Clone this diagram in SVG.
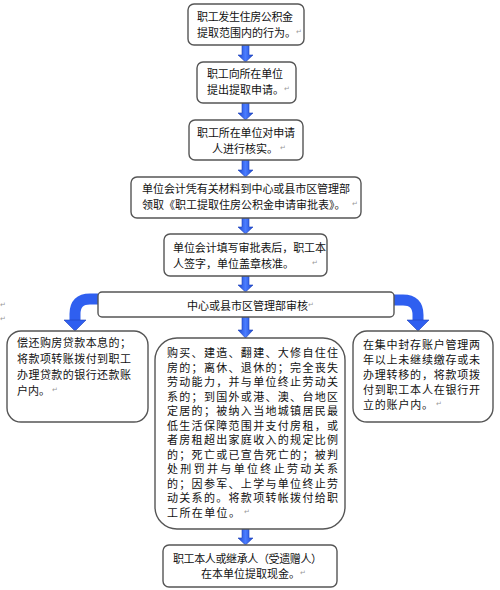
<svg xmlns="http://www.w3.org/2000/svg" width="500" height="590" viewBox="0 0 500 590">
<defs>
<style>
.box{fill:#fff;stroke:#555;stroke-width:1.4}
.t{font-family:"Noto Sans CJK SC","Liberation Sans",sans-serif;font-size:11px;fill:#111;dominant-baseline:central}
.m{font-family:"DejaVu Sans",sans-serif;font-size:7px;fill:#999;dominant-baseline:central}
.arr{fill:url(#blue);stroke:#1c3fb8;stroke-width:0.6}
.curve{fill:none;stroke:#2f5ff0;stroke-width:11}
.head{fill:#2f5ff0;stroke:#1c3fb8;stroke-width:0.6}
</style>
<linearGradient id="blue" x1="0" y1="0" x2="1" y2="0">
<stop offset="0" stop-color="#1d48d0"/>
<stop offset="0.5" stop-color="#4a7cff"/>
<stop offset="1" stop-color="#1d48d0"/>
</linearGradient>
</defs>
<rect width="500" height="590" fill="#fff"/>

<g id="connectors">
<path class="arr" d="M242,45 H249 V55 H253 L245.5,62 L238,55 H242 Z"/>
<path class="arr" d="M242,103 H249 V113 H253 L245.5,120 L238,113 H242 Z"/>
<path class="arr" d="M242,160 H249 V170 H253 L245.5,177 L238,170 H242 Z"/>
<path class="arr" d="M242,218 H249 V227 H253 L245.5,234 L238,227 H242 Z"/>
<path class="arr" d="M242,276 H249 V285 H253 L245.5,292 L238,285 H242 Z"/>
<path class="arr" d="M242,317 H249 V330 H253 L245.5,338 L238,330 H242 Z"/>
<path class="arr" d="M242,529 H249 V538 H253 L245.5,545 L238,538 H242 Z"/>
<path class="curve" d="M98,299 H90 Q75,299 75,314 V321"/>
<path class="head" d="M64,320 H86 L75,331 Z"/>
<path class="curve" d="M394,300 H403 Q418,300 418,315 V321"/>
<path class="head" d="M407,320 H429 L418,331 Z"/>
</g>

<g id="n1">
<rect class="box" x="188" y="4" width="116" height="41" rx="6"/>
<text class="t" x="197" y="16" textLength="96" lengthAdjust="spacing">职工发生住房公积金</text>
<text class="t" x="197" y="32">提取范围内的行为。</text><text class="m" x="296" y="32">↵</text>
</g>

<g id="n2">
<rect class="box" x="197" y="62" width="99" height="41" rx="6"/>
<text class="t" x="207" y="73" textLength="76" lengthAdjust="spacing">职工向所在单位</text>
<text class="t" x="207" y="89">提出提取申请。</text><text class="m" x="284" y="89">↵</text>
</g>

<g id="n3">
<rect class="box" x="189" y="120" width="114" height="40" rx="6"/>
<text class="t" x="197" y="131.5" textLength="98" lengthAdjust="spacing">职工所在单位对申请</text>
<text class="t" x="212" y="147.5">人进行核实。</text><text class="m" x="280" y="147.5">↵</text>
</g>

<g id="n4">
<rect class="box" x="131" y="177" width="230" height="41" rx="6"/>
<text class="t" x="142" y="188" textLength="208" lengthAdjust="spacing">单位会计凭有关材料到中心或县市区管理部</text>
<text class="t" x="142" y="204">领取《职工提取住房公积金申请审批表》。</text><text class="m" x="352" y="204">↵</text>
</g>

<g id="n5">
<rect class="box" x="164" y="234" width="163" height="42" rx="6"/>
<text class="t" x="173" y="246.5" textLength="153" lengthAdjust="spacing">单位会计填写审批表后，职工本</text>
<text class="t" x="173" y="262.5">人签字，单位盖章核准。</text><text class="m" x="312" y="262.5">↵</text>
</g>

<g id="n6">
<rect class="box" x="98" y="292" width="296" height="25" rx="4"/>
<text class="t" x="187" y="305">中心或县市区管理部审核</text><text class="m" x="308" y="305">↵</text>
</g>

<g id="n7">
<rect class="box" x="7" y="331" width="141" height="91" rx="14"/>
<text class="t" x="17" y="342" textLength="114" lengthAdjust="spacing">偿还购房贷款本息的；</text>
<text class="t" x="17" y="358" textLength="114" lengthAdjust="spacing">将款项转账拨付到职工</text>
<text class="t" x="17" y="374" textLength="114" lengthAdjust="spacing">办理贷款的银行还款账</text>
<text class="t" x="17" y="390">户内。</text><text class="m" x="52" y="390">↵</text>
</g>

<g id="n8">
<rect class="box" x="155" y="338" width="190" height="191" rx="22"/>
<text class="t" x="167" y="352" textLength="171" lengthAdjust="spacing">购买、建造、翻建、大修自住住</text>
<text class="t" x="167" y="366.5" textLength="171" lengthAdjust="spacing">房的；离休、退休的；完全丧失</text>
<text class="t" x="167" y="381" textLength="171" lengthAdjust="spacing">劳动能力，并与单位终止劳动关</text>
<text class="t" x="167" y="395.5" textLength="171" lengthAdjust="spacing">系的；到国外或港、澳、台地区</text>
<text class="t" x="167" y="410" textLength="171" lengthAdjust="spacing">定居的；被纳入当地城镇居民最</text>
<text class="t" x="167" y="424.5" textLength="171" lengthAdjust="spacing">低生活保障范围并支付房租，或</text>
<text class="t" x="167" y="439" textLength="171" lengthAdjust="spacing">者房租超出家庭收入的规定比例</text>
<text class="t" x="167" y="453.5" textLength="171" lengthAdjust="spacing">的；死亡或已宣告死亡的；被判</text>
<text class="t" x="167" y="468" textLength="171" lengthAdjust="spacing">处刑罚并与单位终止劳动关系</text>
<text class="t" x="167" y="482.5" textLength="171" lengthAdjust="spacing">的；因参军、上学与单位终止劳</text>
<text class="t" x="167" y="497" textLength="171" lengthAdjust="spacing">动关系的。将款项转帐拨付给职</text>
<text class="t" x="167" y="511.5" textLength="73" lengthAdjust="spacing">工所在单位。</text><text class="m" x="244" y="511.5">↵</text>
</g>

<g id="n9">
<rect class="box" x="353" y="331" width="140" height="91" rx="14"/>
<text class="t" x="363" y="344" textLength="117" lengthAdjust="spacing">在集中封存账户管理两</text>
<text class="t" x="363" y="359" textLength="117" lengthAdjust="spacing">年以上未继续缴存或未</text>
<text class="t" x="363" y="374" textLength="117" lengthAdjust="spacing">办理转移的，将款项拨</text>
<text class="t" x="363" y="389" textLength="117" lengthAdjust="spacing">付到职工本人在银行开</text>
<text class="t" x="363" y="404" textLength="70" lengthAdjust="spacing">立的账户内。</text><text class="m" x="436" y="404">↵</text>
</g>

<g id="n10">
<rect class="box" x="163" y="545" width="174" height="42" rx="6"/>
<text class="t" x="173" y="557.5" textLength="149" lengthAdjust="spacing">职工本人或继承人（受遗赠人）</text>
<text class="t" x="201" y="573">在本单位提取现金。</text><text class="m" x="300" y="573">↵</text>
</g>

<text class="m" x="0" y="305">↵</text>
<text class="m" x="0" y="319">↵</text>
</svg>
